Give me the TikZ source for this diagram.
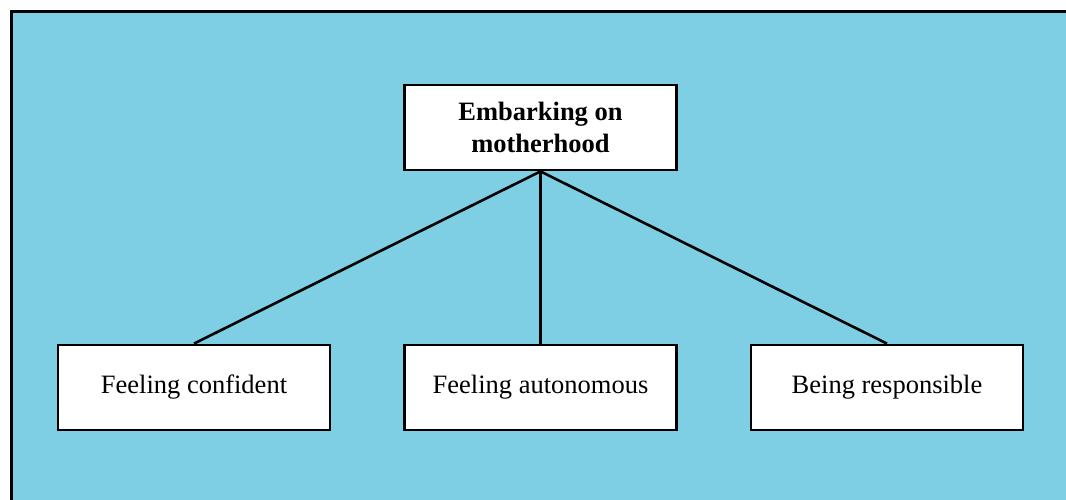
\documentclass[tikz,border=0pt]{standalone}
\usepackage{fontspec}
\setmainfont{Liberation Serif}
\definecolor{panelblue}{RGB}{126,206,228}
\tikzset{
  box/.style={draw=black, line width=2.8pt, fill=white, minimum width=272pt,
    minimum height=85pt, inner sep=0pt, align=center,
    font=\fontsize{26.5}{32}\selectfont},
  link/.style={draw=black, line width=2.6pt}
}
\begin{document}
\begin{tikzpicture}[x=1pt, y=-1pt]
  \useasboundingbox (0,0) rectangle (1066,499);
  \clip (0,0) rectangle (1066,499);
  % panel background with its frame
  \fill[panelblue] (11,11) rectangle (1070,505);
  \draw[black, line width=3pt] (11,505) -- (11,11) -- (1070,11);
  % nodes
  \node[box, font=\fontsize{26.5}{32}\selectfont\bfseries] (top) at (540.5,127.5) {Embarking on\\motherhood};
  \node[box] (conf) at (194,387.5) {Feeling confident};
  \node[box] (auto) at (540.5,387.5) {Feeling autonomous};
  \node[box] (resp) at (887,387.5) {Being responsible};
  % connectors
  \draw[link] (top.south) -- (conf.north);
  \draw[link] (top.south) -- (auto.north);
  \draw[link] (top.south) -- (resp.north);
\end{tikzpicture}
\end{document}
